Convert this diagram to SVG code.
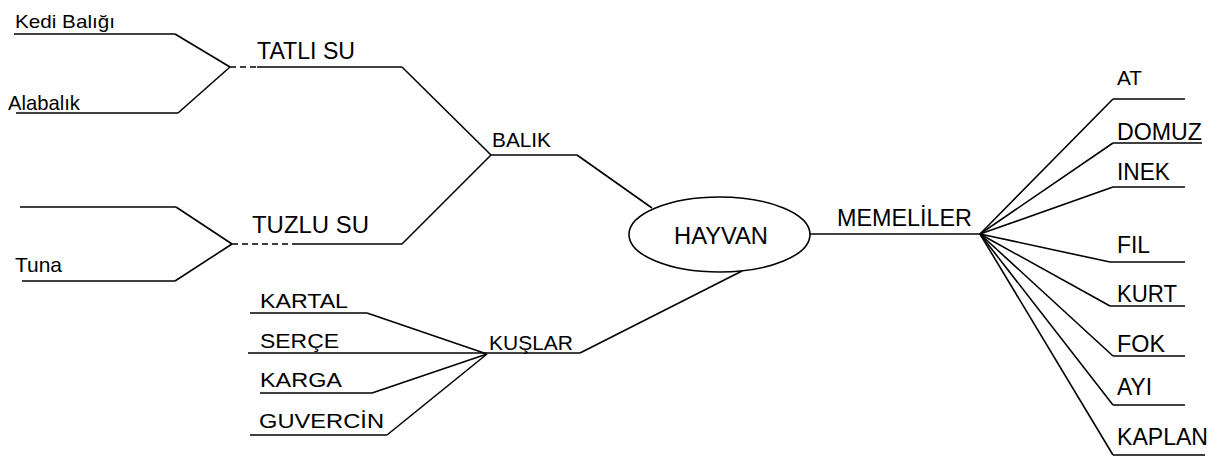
<svg xmlns="http://www.w3.org/2000/svg" width="1219" height="458" viewBox="0 0 1219 458">
<style>
text{font-family:"Liberation Sans",Arial,sans-serif;fill:#000;lengthAdjust:spacingAndGlyphs}
.s{font-size:19px}
.m{font-size:21px}
.l{font-size:23px}
line,polyline,path{stroke:#000;stroke-width:1.6;fill:none}
.d{stroke-dasharray:6 4}
ellipse{stroke:#000;stroke-width:1.6;fill:#fff}
</style>
<rect width="1219" height="458" fill="#fff"/>
<g id="connectors">
<polyline points="175,34 230,67"/>
<polyline points="178,113 230,67"/>
<line class="d" x1="230" y1="67" x2="257" y2="67"/>
<polyline points="176,207 232,244"/>
<polyline points="175,281 232,244"/>
<line class="d" x1="232" y1="244" x2="295" y2="244"/>
<polyline points="402,67 491,155"/>
<polyline points="402,244 491,155"/>
<polyline points="577,155 652,208"/>
<polyline points="367,313 487,354"/>
<polyline points="372,393 487,354"/>
<polyline points="387,435 487,354"/>
<polyline points="580,353 742,271"/>
<line x1="810" y1="234" x2="980" y2="234"/>
<polyline points="980,234 1113,99"/>
<polyline points="980,234 1113,143"/>
<polyline points="980,234 1113,187"/>
<polyline points="980,234 1110,262"/>
<polyline points="980,234 1110,306"/>
<polyline points="980,234 1113,356"/>
<polyline points="980,234 1113,405"/>
<polyline points="980,234 1113,455"/>
</g>
<g id="kedi-baligi"><line x1="14" y1="34" x2="175" y2="34"/><text class="s" x="15" y="28" textLength="100" lengthAdjust="spacingAndGlyphs">Kedi Balığı</text></g>
<g id="alabalik"><line x1="16" y1="113" x2="178" y2="113"/><text class="m" x="8" y="110" textLength="72" lengthAdjust="spacingAndGlyphs">Alabalık</text></g>
<g id="bos"><line x1="20" y1="207" x2="176" y2="207"/></g>
<g id="tuna"><line x1="22" y1="281" x2="175" y2="281"/><text class="m" x="15" y="272" textLength="47" lengthAdjust="spacingAndGlyphs">Tuna</text></g>
<g id="tatli-su"><line x1="257" y1="67" x2="402" y2="67"/><text class="l" x="257" y="59" textLength="98" lengthAdjust="spacingAndGlyphs">TATLI SU</text></g>
<g id="tuzlu-su"><line x1="295" y1="244" x2="402" y2="244"/><text class="l" x="252" y="233" textLength="117" lengthAdjust="spacingAndGlyphs">TUZLU SU</text></g>
<g id="balik"><line x1="491" y1="155" x2="577" y2="155"/><text class="m" x="492" y="147" textLength="59" lengthAdjust="spacingAndGlyphs">BALIK</text></g>
<g id="hayvan"><ellipse cx="719.5" cy="234.5" rx="90.5" ry="37.5"/><text class="l" x="674" y="244" textLength="94" lengthAdjust="spacingAndGlyphs">HAYVAN</text></g>
<g id="kuslar"><line x1="487" y1="353" x2="580" y2="353"/><text class="m" x="489" y="350" textLength="84" lengthAdjust="spacingAndGlyphs">KUŞLAR</text></g>
<g id="kartal"><line x1="250" y1="313" x2="367" y2="313"/><text class="m" x="260" y="308" textLength="88" lengthAdjust="spacingAndGlyphs">KARTAL</text></g>
<g id="serce"><line x1="248" y1="353" x2="487" y2="353"/><text class="m" x="260" y="348" textLength="79" lengthAdjust="spacingAndGlyphs">SERÇE</text></g>
<g id="karga"><line x1="260" y1="393" x2="372" y2="393"/><text class="m" x="260" y="387" textLength="82" lengthAdjust="spacingAndGlyphs">KARGA</text></g>
<g id="guvercin"><line x1="250" y1="435" x2="387" y2="435"/><text class="m" x="259" y="428" textLength="125" lengthAdjust="spacingAndGlyphs">GUVERCİN</text></g>
<g id="memeliler"><text class="l" x="837" y="226" textLength="135" lengthAdjust="spacingAndGlyphs">MEMELİLER</text></g>
<g id="at"><line x1="1113" y1="99" x2="1185" y2="99"/><text class="m" x="1117" y="85" textLength="25" lengthAdjust="spacingAndGlyphs">AT</text></g>
<g id="domuz"><line x1="1113" y1="143" x2="1202" y2="143"/><text class="l" x="1117" y="140" textLength="85" lengthAdjust="spacingAndGlyphs">DOMUZ</text></g>
<g id="inek"><line x1="1113" y1="187" x2="1185" y2="187"/><text class="l" x="1117" y="180" textLength="53" lengthAdjust="spacingAndGlyphs">INEK</text></g>
<g id="fil"><line x1="1110" y1="262" x2="1185" y2="262"/><text class="l" x="1117" y="253" textLength="33" lengthAdjust="spacingAndGlyphs">FIL</text></g>
<g id="kurt"><line x1="1110" y1="306" x2="1185" y2="306"/><text class="l" x="1117" y="302" textLength="60" lengthAdjust="spacingAndGlyphs">KURT</text></g>
<g id="fok"><line x1="1113" y1="356" x2="1185" y2="356"/><text class="l" x="1117" y="352" textLength="48" lengthAdjust="spacingAndGlyphs">FOK</text></g>
<g id="ayi"><line x1="1113" y1="405" x2="1185" y2="405"/><text class="l" x="1117" y="395" textLength="35" lengthAdjust="spacingAndGlyphs">AYI</text></g>
<g id="kaplan"><line x1="1113" y1="455" x2="1205" y2="455"/><text class="l" x="1117" y="445" textLength="91" lengthAdjust="spacingAndGlyphs">KAPLAN</text></g>
</svg>
